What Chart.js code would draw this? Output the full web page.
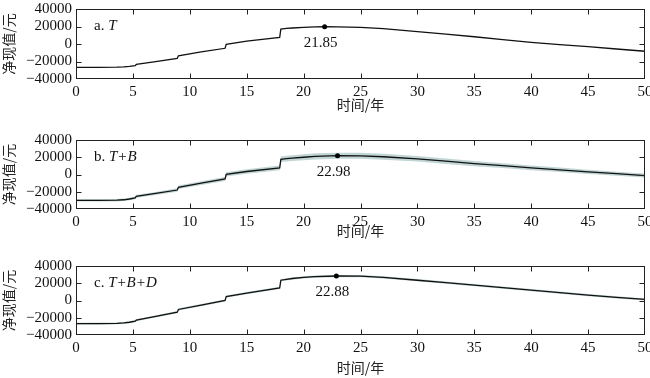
<!DOCTYPE html>
<html>
<head>
<meta charset="utf-8">
<script src="https://cdn.jsdelivr.net/npm/chart.js@4.4.0/dist/chart.umd.min.js"></script>
<style>
  body { margin: 0; background: #fff; }
  #wrap { position: relative; width: 650px; height: 378px; }
  canvas { position: absolute; left: 0; top: 0; }
</style>
</head>
<body>
<div id="wrap">
  <canvas id="ca" width="650" height="378"></canvas>
  <canvas id="cb" width="650" height="378"></canvas>
  <canvas id="cc" width="650" height="378"></canvas>
</div>
<script>
// Datos (tiempo en años, valor en yuanes)
const xTicks = [0, 5, 10, 15, 20, 25, 30, 35, 40, 45, 50];
const yTicks = [-40000, -20000, 0, 20000, 40000];

// a. T
const xA = [0, 2, 3.6, 4.2, 4.7, 5.2, 5.3, 7, 8.9, 9, 11, 13.1, 13.2, 15, 17.9, 18, 18.5, 19, 20, 21, 21.85, 23, 24, 25, 27, 30, 32.5, 35, 37.5, 40, 42.5, 45, 47.5, 50];
const yA = [-26600, -26600, -26500, -26200, -25600, -24800, -23400, -20200, -16400, -13500, -9000, -4900, -400, 3200, 7600, 17000, 17800, 18300, 19100, 19500, 19700, 19650, 19400, 19000, 17600, 14100, 11200, 8300, 5100, 1900, -600, -3000, -5700, -8300];

// b. T+B
const xB = [0, 2, 3.6, 4.2, 4.7, 5.2, 5.3, 7, 8.9, 9, 11, 13.1, 13.2, 15, 17.9, 18, 18.5, 19, 20, 21, 22.98, 25, 27, 30, 32.5, 35, 37.5, 40, 42.5, 45, 47.5, 50];
const yB = [-30000, -30000, -29800, -29300, -28400, -27100, -25200, -22000, -18000, -14800, -10000, -5200, 200, 3500, 7600, 17600, 18400, 19000, 20000, 21000, 21800, 21700, 20600, 18200, 15400, 12700, 10200, 7700, 5400, 3100, 900, -1200];
const hiB = [-28800, -28700, -28400, -27800, -26900, -25500, -23500, -20200, -16000, -12800, -7800, -2800, 2600, 6100, 10400, 20800, 21700, 22400, 23500, 24500, 25300, 25200, 24000, 21400, 18500, 15700, 13000, 10400, 8000, 5600, 3300, 1100];
const loB = [-31200, -31300, -31200, -30800, -29900, -28700, -26900, -23800, -20000, -16800, -12200, -7600, -2200, 900, 4800, 14400, 15100, 15600, 16500, 17500, 18300, 18200, 17200, 15000, 12300, 9700, 7400, 5000, 2800, 600, -1500, -3500];

// c. T+B+D
const xC = [0, 2, 3.6, 4.2, 4.7, 5.2, 5.3, 7, 8.9, 9, 11, 13.1, 13.2, 15, 17.9, 18, 18.5, 19, 20, 21, 22.88, 25, 27, 30, 32.5, 35, 37.5, 40, 42.5, 45, 47.5, 50];
const yC = [-26700, -26700, -26500, -26000, -25200, -24000, -22800, -18500, -13500, -10400, -5300, 0, 4600, 8500, 14700, 23500, 24600, 25500, 26800, 27700, 28400, 28200, 26700, 23500, 20700, 17800, 14900, 12000, 9100, 6200, 3700, 1200];
const hiC = [-25700, -25600, -25400, -24900, -24000, -22800, -21600, -17300, -12200, -9100, -4000, 1300, 5900, 9800, 16000, 24800, 25900, 26800, 28100, 29000, 29700, 29500, 28000, 24800, 22000, 19100, 16200, 13300, 10400, 7500, 5000, 2400];
const loC = [-27700, -27800, -27600, -27100, -26400, -25200, -24000, -19700, -14800, -11700, -6600, -1300, 3300, 7200, 13400, 22200, 23300, 24200, 25500, 26400, 27100, 26900, 25400, 22200, 19400, 16500, 13600, 10700, 7800, 4900, 2400, 0];

// Maximos
const peakX = [21.85, 22.98, 22.88];
const peakY = [19700, 21800, 28400];
const peakText = ['21.85', '22.98', '22.88'];

const tagText = ['a. ', 'b. ', 'c. '];
const tagItalic = ['T', 'T+B', 'T+B+D'];

const SERIF = '"Liberation Serif", "Times New Roman", serif';
const CJK = '"Noto Sans CJK SC", sans-serif';
const BAND = 'rgba(160,190,190,0.65)';

const pts = (xs, ys) => xs.map((x, i) => ({ x: x, y: ys[i] }));

// marco, ticks hacia adentro, etiquetas
const framePlugin = {
  id: 'frame',
  afterDatasetsDraw(chart, args, o) {
    const { ctx, chartArea: a, scales: { x, y } } = chart;
    ctx.save();
    ctx.strokeStyle = '#222';
    ctx.lineWidth = 1;
    const L = Math.round(a.left) + 0.5, R = Math.round(a.right) - 0.5;
    const T = Math.round(a.top) + 0.5, B = Math.round(a.bottom) - 0.5;
    ctx.strokeRect(L, T, R - L, B - T);
    ctx.beginPath();
    x.ticks.forEach(t => {
      if (t.value === x.min || t.value === x.max) return;
      const px = Math.round(x.getPixelForValue(t.value)) + 0.5;
      ctx.moveTo(px, B); ctx.lineTo(px, B - 5);
      ctx.moveTo(px, T); ctx.lineTo(px, T + 5);
    });
    y.ticks.forEach(t => {
      if (t.value === y.min || t.value === y.max) return;
      const py = Math.round(y.getPixelForValue(t.value)) + 0.5;
      ctx.moveTo(L, py); ctx.lineTo(L + 5, py);
      ctx.moveTo(R, py); ctx.lineTo(R - 5, py);
    });
    ctx.stroke();

    ctx.fillStyle = '#111';
    ctx.textBaseline = 'middle';
    ctx.font = '15px ' + SERIF;
    ctx.textAlign = 'center';
    ctx.fillText(o.peakText, x.getPixelForValue(o.peakX) - 4, y.getPixelForValue(o.peakY) + 16);

    ctx.textAlign = 'left';
    const tx = a.left + 18, ty = a.top + 17;
    ctx.fillText(o.tag, tx, ty);
    const w = ctx.measureText(o.tag).width;
    ctx.font = 'italic 15px ' + SERIF;
    ctx.fillText(o.tagIt, tx + w, ty);
    ctx.restore();
  }
};

function panel(id, k, xs, ys, hi, lo, box) {
  const H = box.titleY - box.bottom + 8.4;
  const datasets = [
    { type: 'scatter', data: [{ x: peakX[k], y: peakY[k] }], pointRadius: 2.5, pointBackgroundColor: '#000', pointBorderWidth: 0 },
    { data: pts(xs, ys), borderColor: '#111', borderWidth: 1.3, pointRadius: 0, fill: false, tension: 0 }
  ];
  if (hi) {
    datasets.push({ data: pts(xs, hi), borderWidth: 0, pointRadius: 0, backgroundColor: BAND, fill: '+1', tension: 0 });
    datasets.push({ data: pts(xs, lo), borderWidth: 0, pointRadius: 0, fill: false, tension: 0 });
  }
  return new Chart(document.getElementById(id), {
    type: 'line',
    data: { datasets: datasets },
    options: {
      responsive: false,
      animation: false,
      layout: { padding: { left: 0, right: 5, top: box.top, bottom: 378 - box.bottom - H } },
      plugins: {
        legend: { display: false },
        tooltip: { enabled: false },
        frame: { peakX: peakX[k], peakY: peakY[k], peakText: peakText[k], tag: tagText[k], tagIt: tagItalic[k] }
      },
      scales: {
        x: {
          type: 'linear', min: 0, max: 50,
          afterBuildTicks: s => { s.ticks = xTicks.map(v => ({ value: v })); },
          afterFit: s => { s.height = H; s.paddingLeft = 0; s.paddingRight = 0; },
          grid: { display: false, drawTicks: false },
          border: { display: false },
          ticks: { padding: 4, color: '#111', font: { family: SERIF, size: 15 }, maxRotation: 0, autoSkip: false },
          title: { display: true, text: '时间/年', color: '#222', padding: 0, font: { family: CJK, size: 14 } }
        },
        y: {
          min: -40000, max: 40000,
          afterBuildTicks: s => { s.ticks = yTicks.map(v => ({ value: v })); },
          afterFit: s => { s.width = 76; s.paddingTop = 0; s.paddingBottom = 0; },
          grid: { display: false, drawTicks: false },
          border: { display: false },
          ticks: {
            padding: 4, color: '#111', font: { family: SERIF, size: 15 }, autoSkip: false,
            callback: v => (v < 0 ? '\u2212' + Math.abs(v) : String(v))
          },
          title: { display: true, text: '净现值/元', color: '#222', padding: 0, font: { family: CJK, size: 14 } }
        }
      }
    },
    plugins: [framePlugin]
  });
}

panel('ca', 0, xA, yA, null, null, { top: 9, bottom: 79, titleY: 105 });
panel('cb', 1, xB, yB, hiB, loB, { top: 140, bottom: 209, titleY: 230.5 });
panel('cc', 2, xC, yC, hiC, loC, { top: 266, bottom: 335, titleY: 368 });
</script>
</body>
</html>
